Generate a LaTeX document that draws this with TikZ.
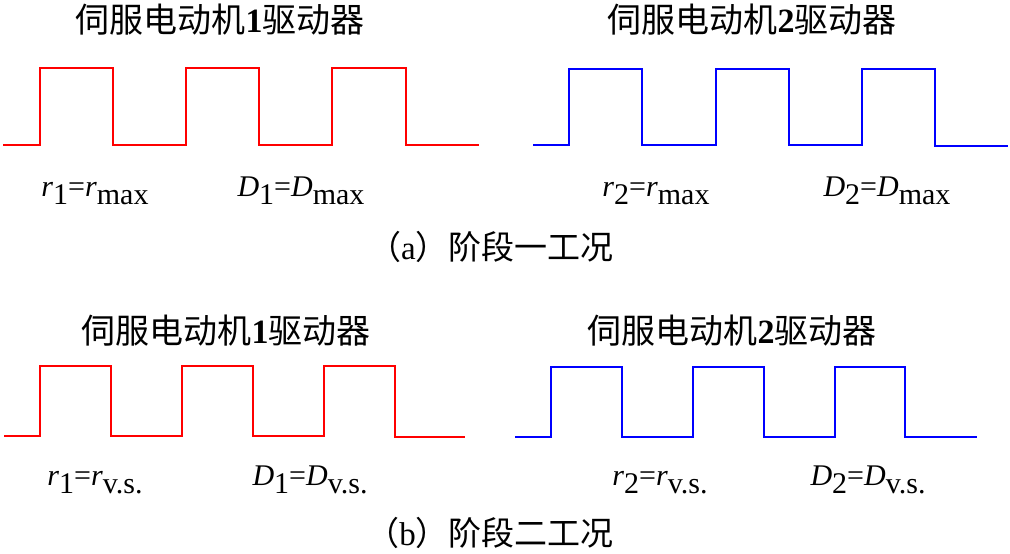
\documentclass[tikz,border=0pt]{standalone}
\usepackage{fontspec}
\setmainfont{Liberation Serif}
\newfontfamily\cjk{Noto Sans CJK SC}
\newcommand{\lsub}[1]{\raisebox{-0.28em}{#1}}
\begin{document}
\begin{tikzpicture}[x=1pt,y=-1pt,
  wave/.style={line width=2.2pt},
  title/.style={inner sep=0pt,anchor=base,font=\fontsize{34}{38}\selectfont},
  lab/.style={inner sep=0pt,anchor=base,font=\fontsize{30}{34}\selectfont},
  captxt/.style={inner sep=0pt,anchor=base,font=\fontsize{33}{38}\selectfont}]
\useasboundingbox (0,0) rectangle (1010,554);
% waveforms
\draw[wave,red] (3,145) -- (40,145) -- (40,68) -- (113,68) -- (113,145) -- (186,145) -- (186,68) -- (259,68) -- (259,145) -- (332,145) -- (332,68) -- (406,68) -- (406,145) -- (479,145);
\draw[wave,blue] (533,145) -- (569,145) -- (569,69) -- (642,69) -- (642,145) -- (716,145) -- (716,69) -- (789,69) -- (789,145) -- (862,145) -- (862,69) -- (935,69) -- (935,146) -- (1008,146);
\draw[wave,red] (4,436) -- (40,436) -- (40,366) -- (111,366) -- (111,436) -- (182,436) -- (182,366) -- (253,366) -- (253,436) -- (324,436) -- (324,366) -- (395,366) -- (395,437) -- (465,437);
\draw[wave,blue] (515,437) -- (551,437) -- (551,367) -- (622,367) -- (622,437) -- (693,437) -- (693,367) -- (764,367) -- (764,437) -- (835,437) -- (835,367) -- (905,367) -- (905,437) -- (977,437);
% titles
\node[title] (t1) at (220,32) {\cjk 伺服电动机\textbf{\rmfamily 1}驱动器};
\node[title] (t2) at (752,32) {\cjk 伺服电动机\textbf{\rmfamily 2}驱动器};
\node[title] (t3) at (226,343) {\cjk 伺服电动机\textbf{\rmfamily 1}驱动器};
\node[title] (t4) at (732,343) {\cjk 伺服电动机\textbf{\rmfamily 2}驱动器};
% labels
\node[lab] (l1) at (95,196) {\textit{r}\lsub{1}=\textit{r}\lsub{max}};
\node[lab] (l2) at (301,196) {\textit{D}\lsub{1}=\textit{D}\lsub{max}};
\node[lab] (l3) at (656,196) {\textit{r}\lsub{2}=\textit{r}\lsub{max}};
\node[lab] (l4) at (887,196) {\textit{D}\lsub{2}=\textit{D}\lsub{max}};
\node[lab] (l5) at (95,485) {\textit{r}\lsub{1}=\textit{r}\lsub{v.s.}};
\node[lab] (l6) at (310,485) {\textit{D}\lsub{1}=\textit{D}\lsub{v.s.}};
\node[lab] (l7) at (660,485) {\textit{r}\lsub{2}=\textit{r}\lsub{v.s.}};
\node[lab] (l8) at (868,485) {\textit{D}\lsub{2}=\textit{D}\lsub{v.s.}};
% captions
\node[captxt] (ca) at (491,259) {\cjk （\rmfamily a\cjk ）阶段一工况};
\node[captxt] (cb) at (490,545) {\cjk （\rmfamily b\cjk ）阶段二工况};
\end{tikzpicture}
\end{document}
